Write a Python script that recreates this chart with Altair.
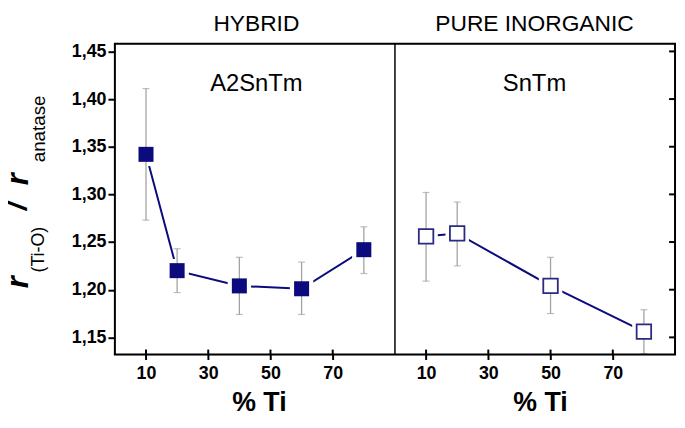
import altair as alt
import pandas as pd

# ---- data ----
hyb_x = [10, 20, 40, 60, 80]
hyb_y = [1.342, 1.220, 1.204, 1.201, 1.242]
hyb_lo = [1.273, 1.197, 1.174, 1.174, 1.217]
hyb_hi = [1.411, 1.243, 1.234, 1.229, 1.266]

pure_x = [10, 20, 50, 80]
pure_y = [1.256, 1.259, 1.204, 1.156]
pure_lo = [1.209, 1.225, 1.175, 1.133]
pure_hi = [1.302, 1.292, 1.234, 1.179]

panels = ["HYBRID", "PURE INORGANIC"]
samples = ["A2SnTm", "SnTm"]
x_tick_values = [10, 30, 50, 70]
y_tick_values = [1.15, 1.20, 1.25, 1.30, 1.35, 1.40, 1.45]
x_title = "% Ti"
y_title_parts = ["r", "(Ti-O)", "/", "r", "anatase"]

PANEL_SPAN = 90  # each panel covers 0..90 % Ti
W, H = 566, 314
FONT = "Liberation Sans"
NAVY = "#0b0b7d"
GREY = "#a3a3a3"

rows = []
for xs, ys, lo, hi, off, pan in [
    (hyb_x, hyb_y, hyb_lo, hyb_hi, 0, panels[0]),
    (pure_x, pure_y, pure_lo, pure_hi, PANEL_SPAN, panels[1]),
]:
    for a, b, c, d in zip(xs, ys, lo, hi):
        rows.append({"panel": pan, "x": a, "xpos": a + off, "y": b, "lo": c, "hi": d})
df = pd.DataFrame(rows)

xticks_all = x_tick_values + [v + PANEL_SPAN for v in x_tick_values]

xscale = alt.Scale(domain=[0, 2 * PANEL_SPAN], nice=False, zero=False)
yscale = alt.Scale(domain=[1.132, 1.458], nice=False, zero=False)

xaxis = alt.Axis(
    values=xticks_all,
    labelExpr=f"datum.value > {PANEL_SPAN} ? datum.value - {PANEL_SPAN} : datum.value",
    title=None, grid=False, domain=False,
    tickSize=5, tickWidth=2, tickColor="black",
    labelFont=FONT, labelFontSize=18, labelFontWeight="bold", labelColor="black",
    labelPadding=5,
)
yaxis = alt.Axis(
    values=y_tick_values,
    labelExpr="replace(format(datum.value, '.2f'), '.', ',')",
    title=None, grid=False, domain=False,
    tickSize=7, tickWidth=2, tickColor="black",
    labelFont=FONT, labelFontSize=18, labelFontWeight="bold", labelColor="black",
    labelPadding=2,
)

X = alt.X("xpos:Q", scale=xscale, axis=xaxis)
Y = alt.Y("y:Q", scale=yscale, axis=yaxis)

base = alt.Chart(df)

line = base.mark_line(color=NAVY, strokeWidth=2).encode(x=X, y=Y, detail="panel:N")
gaps = base.mark_point(shape="square", size=560, filled=True, color="white", opacity=1).encode(x=X, y=Y)
err = base.mark_rule(color=GREY, strokeWidth=1.3).encode(
    x=X, y=alt.Y("lo:Q", scale=yscale, axis=yaxis), y2="hi:Q"
)
cap_lo = base.mark_tick(orient="horizontal", size=7, thickness=1.2, color=GREY).encode(
    x=X, y=alt.Y("lo:Q", scale=yscale, axis=yaxis)
)
cap_hi = base.mark_tick(orient="horizontal", size=7, thickness=1.2, color=GREY).encode(
    x=X, y=alt.Y("hi:Q", scale=yscale, axis=yaxis)
)
filled = base.transform_filter(alt.datum.panel == panels[0]).mark_point(
    shape="square", size=230, filled=True, color=NAVY, opacity=1
).encode(x=X, y=Y)
hollow = base.transform_filter(alt.datum.panel == panels[1]).mark_point(
    shape="square", size=215, filled=True, fill="white", stroke="#2a2a85",
    strokeWidth=1.8, opacity=1
).encode(x=X, y=Y)

# divider between the panels
divider = alt.Chart(pd.DataFrame({"v": [PANEL_SPAN]})).mark_rule(
    color="black", strokeWidth=1.5
).encode(x=alt.X("v:Q", scale=xscale, axis=xaxis), y=alt.value(0), y2=alt.value(H))

# inward ticks on the right frame
rticks = alt.Chart(pd.DataFrame({"v": y_tick_values})).mark_rule(
    color="black", strokeWidth=2
).encode(y=alt.Y("v:Q", scale=yscale, axis=yaxis), x=alt.value(W - 6), x2=alt.value(W))

# inward half of the bottom ticks
bticks = alt.Chart(pd.DataFrame({"v": xticks_all})).mark_rule(
    color="black", strokeWidth=2
).encode(x=alt.X("v:Q", scale=xscale, axis=xaxis), y=alt.value(H - 5), y2=alt.value(H))

# frame
frame_df = pd.DataFrame({"k": [0]})
frame = [
    alt.Chart(frame_df).mark_rule(color="black", strokeWidth=2).encode(
        x=alt.value(-1), x2=alt.value(W + 1), y=alt.value(0)),
    alt.Chart(frame_df).mark_rule(color="black", strokeWidth=2).encode(
        x=alt.value(-1), x2=alt.value(W + 1), y=alt.value(H)),
    alt.Chart(frame_df).mark_rule(color="black", strokeWidth=2).encode(
        x=alt.value(0), y=alt.value(0), y2=alt.value(H)),
    alt.Chart(frame_df).mark_rule(color="black", strokeWidth=2).encode(
        x=alt.value(W), y=alt.value(0), y2=alt.value(H)),
]


def label(txt, x, y, size, weight="normal", style="normal", angle=0):
    return alt.Chart(pd.DataFrame({"t": [txt]})).mark_text(
        font=FONT, fontSize=size, fontWeight=weight, fontStyle=style,
        angle=angle, align="center", baseline="alphabetic", color="black",
    ).encode(text="t:N", x=alt.value(x), y=alt.value(y))


texts = [
    label(panels[0], 143, -13, 23),
    label(panels[1], 424, -13, 23),
    label(samples[0], 143, 48, 24),
    label(samples[1], 424, 48, 24),
    label(x_title, 146, 371, 27, "bold"),
    label(x_title, 430, 371, 27, "bold"),
    # y-axis title built from pieces (subscripts)
    label(y_title_parts[0], -88, 241, 31, "bold", "italic", 270),
    label(y_title_parts[1], -72, 208, 18, "normal", "normal", 270),
    label(y_title_parts[2], -89, 164, 30, "bold", "italic", 270),
    label(y_title_parts[3], -88, 137, 31, "bold", "italic", 270),
    label(y_title_parts[4], -71, 86, 19, "normal", "normal", 270),
]

chart = alt.layer(
    line, gaps, err, cap_lo, cap_hi, filled, hollow, divider, rticks, bticks,
    *frame, *texts
).properties(
    width=W, height=H,
    autosize=alt.AutoSizeParams(type="none"),
    padding={"left": 108, "top": 34, "right": 2, "bottom": 64},
).configure_view(
    strokeWidth=0
).configure(background="white")

chart.save("out.html", embed_options={"renderer": "svg", "actions": False})
